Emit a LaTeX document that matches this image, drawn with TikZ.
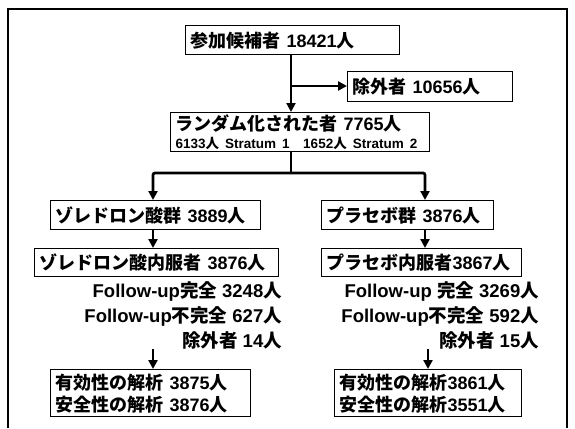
\documentclass[tikz,border=0pt]{standalone}
\usepackage{fontspec}
\setmainfont{Liberation Sans}
\newfontfamily\jp{Noto Sans CJK JP Bold}
\usetikzlibrary{arrows.meta}
\newcommand\J[1]{{\jp #1}}
\begin{document}
\begin{tikzpicture}[x=1pt,y=-1pt,
  box/.style={draw, line width=1.4pt, anchor=north west, inner xsep=5pt, inner ysep=1pt, align=left,
    font=\fontsize{18}{22}\selectfont\bfseries},
  arr/.style={line width=2.7pt, -{Triangle[length=9pt,width=9pt]}},
  ln/.style={line width=2.7pt},
  note/.style={anchor=north east, align=right, inner sep=0pt, font=\fontsize{18.5}{25}\selectfont\bfseries}]
\useasboundingbox (0,0) rectangle (575,428);
\draw[line width=2.4pt] (8,428) -- (8,9) -- (567,9) -- (567,428);

\node[box, text width=204pt, minimum height=29pt] (t) at (185,25) {\J{参加候補者} 18421\J{人}};
\node[box, text width=155pt, minimum height=30pt] (e) at (347,71) {\J{除外者} 10656\J{人}};
\node[box, text width=249pt, minimum height=39pt] (r) at (170,112)
  {\J{ランダム化された者} 7765\J{人}\\[-4pt]
   \fontsize{13.5}{15}\selectfont 6133\J{人} Stratum 1\quad 1652\J{人} Stratum 2};

\node[box, text width=200pt, minimum height=29pt] (z1) at (50,200) {\J{ゾレドロン酸群} 3889\J{人}};
\node[box, text width=162pt, minimum height=29pt] (p1) at (321,200) {\J{プラセボ群} 3876\J{人}};
\node[box, text width=234pt, minimum height=28pt] (z2) at (34,248) {\J{ゾレドロン酸内服者} 3876\J{人}};
\node[box, text width=190pt, minimum height=28pt] (p2) at (321,248) {\J{プラセボ内服者}3867\J{人}};

\node[note] (fz) at (282,281) {Follow-up\J{完全} 3248\J{人}\\Follow-up\J{不完全} 627\J{人}\\\J{除外者} 14\J{人}};
\node[note] (fp) at (539,281) {Follow-up \J{完全} 3269\J{人}\\Follow-up\J{不完全} 592\J{人}\\\J{除外者} 15\J{人}};

\node[box, text width=190pt, minimum height=47pt] (z3) at (50,369) {\J{有効性の解析} 3875\J{人}\\\J{安全性の解析} 3876\J{人}};
\node[box, text width=177pt, minimum height=47pt] (p3) at (334,369) {\J{有効性の解析}3861\J{人}\\\J{安全性の解析}3551\J{人}};

\coordinate (b1) at (291,86);
\coordinate (j) at (291,173);
\coordinate (cl) at (153,173);
\coordinate (cr) at (425,173);
\coordinate (dl) at (153,0);
\coordinate (dr) at (428,0);

\draw[arr] (t.south -| b1) -- (r.north -| b1);
\draw[arr] (b1) -- (e.west |- b1);
\draw[ln] (r.south -| j) -- (j);
\draw[arr, rounded corners=2pt] (j) -- (cl) -- (cl |- z1.north);
\draw[arr, rounded corners=2pt] (j) -- (cr) -- (cr |- p1.north);
\draw[arr] (z1.south -| cl) -- (z2.north -| cl);
\draw[arr] (p1.south -| cr) -- (p2.north -| cr);
\draw[arr] (fz.south -| dl) -- (z3.north -| dl);
\draw[arr] (fp.south -| dr) -- (p3.north -| dr);
\end{tikzpicture}
\end{document}
